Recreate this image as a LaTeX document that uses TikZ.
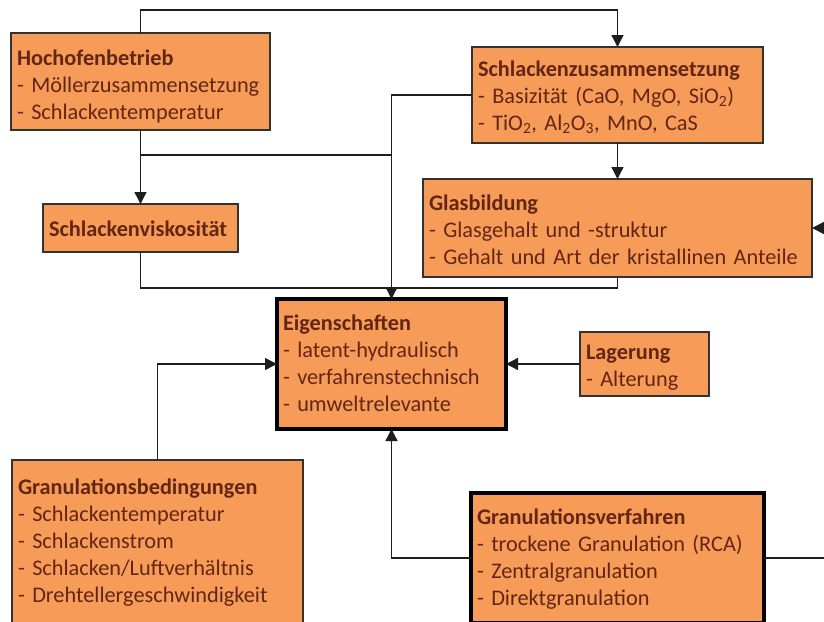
\documentclass[tikz,border=0pt]{standalone}
\usepackage{fontspec}
\setmainfont{Carlito}
\usetikzlibrary{arrows.meta}
\definecolor{orfill}{RGB}{246,155,88}
\definecolor{boxline}{RGB}{50,50,50}
\definecolor{txtbrown}{RGB}{100,38,20}
\definecolor{conn}{RGB}{30,30,30}
\newcommand{\boxtitle}[1]{\textbf{#1}}
\begin{document}
\begin{tikzpicture}[x=1pt,y=-1pt,
  toppad/.store in=\boxtoppad, toppad=19pt,
  box/.style={draw=boxline, line width=1.4pt, fill=orfill, text=txtbrown,
    font=\fontsize{22.3}{27}\selectfont, align=left, anchor=north west,
    inner xsep=6pt, inner ysep=0pt, outer sep=0pt,
    execute at begin node=\rule{0pt}{\boxtoppad},
    execute at end node=\rule[-6pt]{0pt}{6pt}},
  keybox/.style={box, draw=black, line width=4pt},
  link/.style={draw=conn, line width=1.4pt},
  arr/.style={link, -{Triangle[length=12pt,width=12pt]}}]
\useasboundingbox (0,0) rectangle (824,621);

% influencing factors
\node[box, toppad=27pt, minimum width=259pt, minimum height=97pt, text width=247pt] (hoch) at (11,33)
  {\boxtitle{Hochofenbetrieb}\\- Möllerzusammensetzung\\- Schlackentemperatur};
\node[box, toppad=23pt, minimum width=291pt, minimum height=96pt, text width=279pt] (schlz) at (472,47)
  {\boxtitle{Schlackenzusammensetzung}\\- Basizität (CaO, MgO, SiO\textsubscript{2})\\- TiO\textsubscript{2}, Al\textsubscript{2}O\textsubscript{3}, MnO, CaS};
\node[box, toppad=25pt, minimum width=389pt, minimum height=98pt, text width=377pt] (glas) at (423,179)
  {\boxtitle{Glasbildung}\\- Glasgehalt und -struktur\\- Gehalt und Art der kristallinen Anteile};
\node[box, toppad=23pt, minimum width=195pt, minimum height=48pt, text width=183pt] (visk) at (43,204)
  {\boxtitle{Schlackenviskosität}};
\node[box, toppad=23pt, minimum width=129pt, minimum height=64pt, text width=117pt] (lag) at (580,332)
  {\boxtitle{Lagerung}\\- Alterung};
\node[box, minimum width=291pt, minimum height=164pt, text width=279pt] (gbed) at (12,460)
  {\boxtitle{Granulationsbedingungen}\\- Schlackentemperatur\\- Schlackenstrom\\- Schlacken/Luftverhältnis\\- Drehtellergeschwindigkeit};

% central boxes
\node[keybox, minimum width=229pt, minimum height=130pt, text width=217pt] (eig) at (277,299)
  {\boxtitle{Eigenschaften}\\- latent-hydraulisch\\- verfahrenstechnisch\\- umweltrelevante};
\node[keybox, minimum width=293pt, minimum height=130pt, text width=281pt] (gverf) at (471,493)
  {\boxtitle{Granulationsverfahren}\\- trockene Granulation (RCA)\\- Zentralgranulation\\- Direktgranulation};

% junction points above the properties box
\coordinate (j1) at (eig.north |- 0,155);
\coordinate (j2) at (eig.north |- 0,288);

% connectors
\draw[arr] (hoch.north) -- ++(0,-23) -| (schlz.north);
\draw[arr] (schlz.west) -| (eig.north);
\draw[arr] (hoch.south) -- (visk.north);
\draw[link] (hoch.south |- j1) -- (j1);
\draw[arr] (schlz.south) -- (glas.north);
\draw[link] (visk.south) |- (j2);
\draw[link] (glas.south) |- (j2);
\draw[arr] (lag.west) -- (eig.east);
\draw[arr] (gbed.north) |- (eig.west);
\draw[arr] (gverf.west) -| (eig.south);
\draw[arr] (gverf.east) -- ++(80,0) |- (glas.east);
\end{tikzpicture}
\end{document}
